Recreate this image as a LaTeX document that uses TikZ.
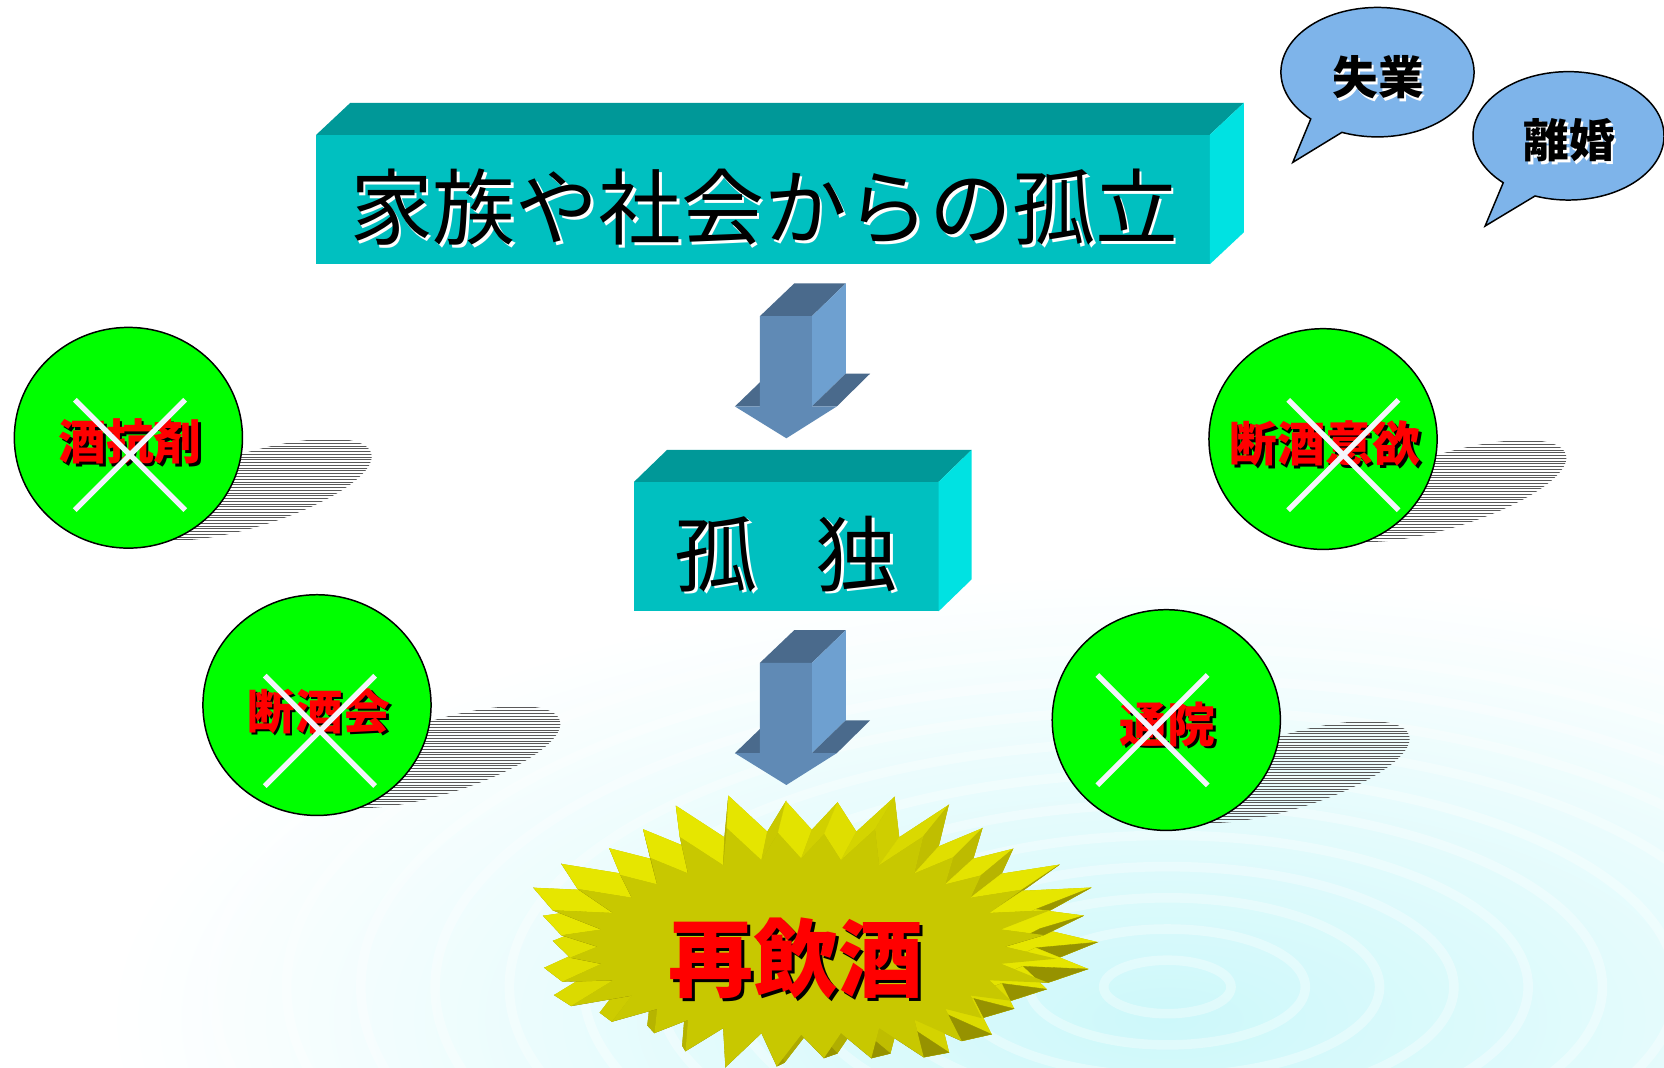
\documentclass[tikz,border=0pt]{standalone}
\usepackage{fontspec}
\newfontfamily\jp{Noto Sans CJK JP}
\usetikzlibrary{shapes.geometric,calc}
\definecolor{boxfront}{RGB}{0,192,192}
\definecolor{boxtop}{RGB}{0,152,152}
\definecolor{boxside}{RGB}{0,226,226}
\definecolor{arfront}{RGB}{96,138,181}
\definecolor{artop}{RGB}{74,106,140}
\definecolor{arside}{RGB}{110,160,208}
\definecolor{ballgreen}{RGB}{0,255,0}
\definecolor{bubblue}{RGB}{126,180,234}
\definecolor{xwhite}{RGB}{244,244,252}
\definecolor{sbface}{RGB}{200,200,0}
\definecolor{sbhi}{RGB}{230,230,0}
\definecolor{sblo}{RGB}{150,146,0}
\definecolor{sbback}{RGB}{170,165,0}
\definecolor{ripple}{RGB}{205,248,250}
\newcommand\sbpt[3]{%
  \pgfmathsetmacro\sbang{#1*5.625}%
  \ifodd#1\relax
    \pgfmathsetmacro\sbj{1+0.06*sin(#1*137)}%
    \pgfmathsetmacro#2{755+232*\sbj*cos(\sbang)}%
    \pgfmathsetmacro#3{892+112*\sbj*sin(\sbang)}%
  \else
    \pgfmathsetmacro#2{755+192*cos(\sbang)}%
    \pgfmathsetmacro#3{892+83*sin(\sbang)}%
  \fi}
\newcommand\hatchshadow[2]{%
  \begin{scope}
    \clip[rotate around={17:(#1+116,#2+49)}] (#1+116,#2+49) ellipse [x radius=118, y radius=35];
    \foreach \i in {0,...,40} \draw[hatch] (#1, #2+\i*2.6) -- ++(240,0);
  \end{scope}}
\begin{document}
\begin{tikzpicture}[x=1pt,y=-1pt,
  face/.style={fill=boxfront, inner sep=0, outer sep=0},
  bigtxt/.style={font=\jp\fontsize{78}{80}\selectfont, inner sep=0},
  burst/.style={font=\jp\bfseries\fontsize{80}{84}\selectfont, inner sep=0},
  redtxt/.style={font=\jp\bfseries\fontsize{45}{48}\selectfont, inner sep=0},
  bubtxt/.style={font=\jp\bfseries\fontsize{43}{46}\selectfont, inner sep=0},
  ball/.style={ellipse, draw=black, line width=1.4, fill=ballgreen, minimum width=215, minimum height=208, inner sep=0},
  xmark/.style={draw=xwhite, line width=5},
  hatch/.style={draw=black!65, line width=0.7},
  bubble/.style={fill=bubblue, draw=black, line width=1.4},
]
\useasboundingbox (0,0) rectangle (1568,1006);
\clip (0,0) rectangle (1568,1006);
\fill[white] (0,0) rectangle (1568,1006);
% background ripples
\shade[inner color=ripple, outer color=white] (1100,960) ellipse [x radius=1000, y radius=420];
\foreach \r in {60,130,...,900} \draw[white, line width=9, opacity=0.35] (1100,930) ellipse [x radius=\r, y radius={0.42*\r}];

% box 1
\node[face, minimum width=842, minimum height=122] (b1) at (719,188) {};
\fill[boxtop] (b1.north west) -- ++(32,-30) -- ($(b1.north east)+(32,-30)$) -- (b1.north east) -- cycle;
\fill[boxside] (b1.north east) -- ++(32,-30) -- ($(b1.south east)+(32,-30)$) -- (b1.south east) -- cycle;
\node[bigtxt, text=white] (t1s) at (722.5,197.5) {家族や社会からの孤立};
\node[bigtxt, text=black] (t1) at (720,195) {家族や社会からの孤立};

% box 2
\node[face, minimum width=287, minimum height=122] (b2) at (741,515) {};
\fill[boxtop] (b2.north west) -- ++(31,-30) -- ($(b2.north east)+(31,-30)$) -- (b2.north east) -- cycle;
\fill[boxside] (b2.north east) -- ++(31,-30) -- ($(b2.south east)+(31,-30)$) -- (b2.south east) -- cycle;
\node[bigtxt, text=white] (t2s) at (743.5,524.5) {孤\hspace{55pt}独};
\node[bigtxt, text=black] (t2) at (741,522) {孤\hspace{55pt}独};

% block arrows
\foreach \dy/\nm in {0/a1, 326.7/a2}{
  \begin{scope}[shift={(0,\dy)}]
    \fill[artop] (716,298) -- (748.5,267) -- (797,267) -- (765,298) -- cycle;
    \fill[arside] (765,298) -- (797,267) -- (797,352) -- (765,383) -- cycle;
    \fill[artop] (765,383) -- (797,352) -- (820,352) -- (788.5,383) -- cycle;
    \fill[artop] (692.5,383) -- (716,360.3) -- (716,383) -- cycle;
    \fill[arfront] (716,298) -- (765,298) -- (765,383) -- (788.5,383) -- (741,413) -- (692.5,383) -- (716,383) -- cycle;
    \coordinate (\nm) at (741,413);
  \end{scope}
}

% starburst
\foreach \k in {0,...,64}{
  \sbpt{\k}{\sbx}{\sby}
  \coordinate (f\k) at (\sbx,\sby);
  \coordinate (g\k) at ({765+1.12*(\sbx-755)},{875+1.12*(\sby-892)});
}
\fill[sbback] (g0) \foreach \k in {1,...,63}{ -- (g\k)} -- cycle;
\foreach \k in {0,...,63}{
  \pgfmathtruncatemacro\kn{\k+1}
  \sbpt{\k}{\ax}{\ay}
  \sbpt{\kn}{\bx}{\by}
  \pgfmathsetmacro\nx{\by-\ay}
  \pgfmathsetmacro\ny{\ax-\bx}
  \pgfmathsetmacro\nl{veclen(\nx,\ny)}
  \pgfmathtruncatemacro\pct{max(0,min(100,50+55*(0.28*\nx-0.96*\ny)/\nl))}
  \filldraw[fill=sbhi!\pct!sblo, draw=sbhi!\pct!sblo, line width=0.3] (f\k) -- (f\kn) -- (g\kn) -- (g\k) -- cycle;
}
\fill[sbface] (f0) \foreach \k in {1,...,63}{ -- (f\k)} -- cycle;
\node[burst, text=black] (t5s) at (753,906) {再飲酒};
\node[burst, text=red] (t5) at (750,903) {再飲酒};

% shadows of balls
\hatchshadow{121}{412.5}
\hatchshadow{298.7}{664.4}
\hatchshadow{1246.7}{413.7}
\hatchshadow{1099}{678.5}

% balls
\node[ball] (c1) at (121,412.5) {};
\node[ball] (c2) at (298.7,664.4) {};
\node[ball] (c3) at (1246.7,413.7) {};
\node[ball] (c4) at (1099,678.5) {};

\node[redtxt, text=black] (l1s) at (125,418.5) {酒抗剤};
\node[redtxt, text=red] (l1) at (122.5,416) {酒抗剤};
\node[redtxt, text=black] (l2s) at (303,672.5) {断酒会};
\node[redtxt, text=red] (l2) at (300.5,670) {断酒会};
\node[redtxt, text=black] (l3s) at (1251,420.5) {断酒意欲};
\node[redtxt, text=red] (l3) at (1248.6,418) {断酒意欲};
\node[redtxt, text=black] (l4s) at (1102.5,685) {通院};
\node[redtxt, text=red] (l4) at (1100,682.4) {通院};

\coordinate (x1) at (122.5,428.7);
\coordinate (x2) at (301.5,688.7);
\coordinate (x3) at (1265.9,428.8);
\coordinate (x4) at (1086,688);
\foreach \c in {x1,x2,x3,x4}{
  \draw[xmark] ($(\c)+(-52,-52)$) -- ($(\c)+(52,52)$);
  \draw[xmark] ($(\c)+(-52,52)$) -- ($(\c)+(52,-52)$);
}

% speech bubbles
\coordinate (u1) at (1298,68);
\coordinate (u1tip) at (1218.2,153);
\draw[bubble] (u1tip) -- ($(u1)+(133.7:91 and 61)$) arc[start angle=133.7, end angle=471.6, x radius=91, y radius=61] -- cycle;
\node[bubtxt, text=white] (s1s) at (1300.5,75.5) {失業};
\node[bubtxt, text=black] (s1) at (1298.5,73) {失業};

\coordinate (u2) at (1478,128);
\coordinate (u2tip) at (1399.4,213);
\draw[bubble] (u2tip) -- ($(u2)+(133.1:90 and 60.5)$) arc[start angle=133.1, end angle=470.5, x radius=90, y radius=60.5] -- cycle;
\node[bubtxt, text=white] (s2s) at (1481,134.5) {離婚};
\node[bubtxt, text=black] (s2) at (1478.5,132) {離婚};
\end{tikzpicture}
\end{document}
